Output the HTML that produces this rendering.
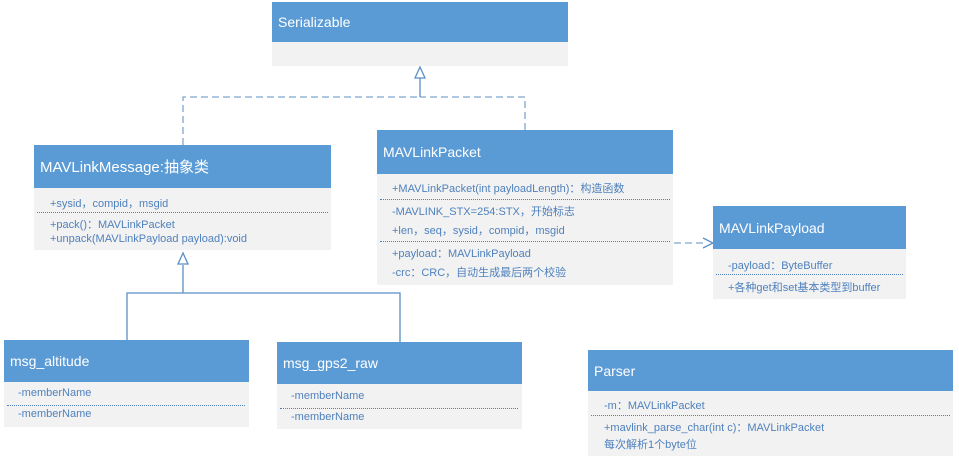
<!DOCTYPE html>
<html><head><meta charset="utf-8"><style>
body{margin:0;width:959px;height:459px;background:#fff;position:relative;overflow:hidden;font-family:"Liberation Sans","Noto Sans CJK SC",sans-serif}
.b{position:absolute;background:#f2f2f2}
.h{background:#5b9bd5;color:#fff;font-size:14px;padding-left:6px;box-sizing:border-box;display:flex;align-items:center}
.r{position:absolute;font-size:11px;color:#4f81bd;white-space:nowrap}
.d{position:absolute;border-top:1px dotted #4f81bd}
svg{position:absolute;left:0;top:0}
</style></head><body>
<svg width="959" height="459">
<g stroke="#7ea6cf" stroke-width="1.3" fill="none" stroke-dasharray="7,4">
<polyline points="183,145 183,97 420,97"/>
<polyline points="525,130 525,97 420,97"/>
<line x1="674" y1="243" x2="706" y2="243"/>
</g>
<g stroke="#5b8fc5" stroke-width="1.3" fill="none">
<line x1="420" y1="97" x2="420" y2="78"/>
<polygon points="420,67 415,78 425,78" fill="#fff"/>
<line x1="183" y1="265" x2="183" y2="293"/>
<polygon points="183,253 178,264 188,264" fill="#fff"/>
<polyline points="127,340 127,293 400,293 400,342"/>
<polyline points="703,238 713,243 703,248"/>
</g>
</svg>

<div class="b" style="left:272px;top:2px;width:296px;height:64px"><div class="h" style="height:40px">Serializable</div></div>

<div class="b" style="left:34px;top:145px;width:297px;height:105px"><div class="h" style="height:43px;font-size:15px">MAVLinkMessage:抽象类</div></div>
<div class="r" style="left:50px;top:195px">+sysid，compid，msgid</div>
<div class="d" style="left:37px;top:212px;width:291px"></div>
<div class="r" style="left:50px;top:216px">+pack()：MAVLinkPacket</div>
<div class="r" style="left:50px;top:233px">+unpack(MAVLinkPayload payload):void</div>

<div class="b" style="left:377px;top:130px;width:296px;height:155px"><div class="h" style="height:44px">MAVLinkPacket</div></div>
<div class="r" style="left:392px;top:180px">+MAVLinkPacket(int payloadLength)：构造函数</div>
<div class="d" style="left:380px;top:199px;width:290px"></div>
<div class="r" style="left:392px;top:203px">-MAVLINK_STX=254:STX，开始标志</div>
<div class="r" style="left:392px;top:222px">+len，seq，sysid，compid，msgid</div>
<div class="d" style="left:380px;top:241px;width:290px"></div>
<div class="r" style="left:392px;top:245px">+payload：MAVLinkPayload</div>
<div class="r" style="left:392px;top:264px">-crc：CRC，自动生成最后两个校验</div>

<div class="b" style="left:713px;top:206px;width:193px;height:93px"><div class="h" style="height:43px">MAVLinkPayload</div></div>
<div class="r" style="left:728px;top:257px">-payload：ByteBuffer</div>
<div class="d" style="left:716px;top:274px;width:187px"></div>
<div class="r" style="left:728px;top:279px">+各种get和set基本类型到buffer</div>

<div class="b" style="left:4px;top:340px;width:245px;height:87px"><div class="h" style="height:42px">msg_altitude</div></div>
<div class="r" style="left:18px;top:387px">-memberName</div>
<div class="d" style="left:7px;top:405px;width:238px"></div>
<div class="r" style="left:18px;top:408px">-memberName</div>

<div class="b" style="left:277px;top:342px;width:245px;height:87px"><div class="h" style="height:42px">msg_gps2_raw</div></div>
<div class="r" style="left:291px;top:390px">-memberName</div>
<div class="d" style="left:280px;top:408px;width:238px"></div>
<div class="r" style="left:291px;top:411px">-memberName</div>

<div class="b" style="left:588px;top:350px;width:365px;height:106px"><div class="h" style="height:41px">Parser</div></div>
<div class="r" style="left:604px;top:397px">-m：MAVLinkPacket</div>
<div class="d" style="left:591px;top:415px;width:359px"></div>
<div class="r" style="left:604px;top:419px">+mavlink_parse_char(int c)：MAVLinkPacket</div>
<div class="r" style="left:604px;top:436px">每次解析1个byte位</div>
</body></html>
